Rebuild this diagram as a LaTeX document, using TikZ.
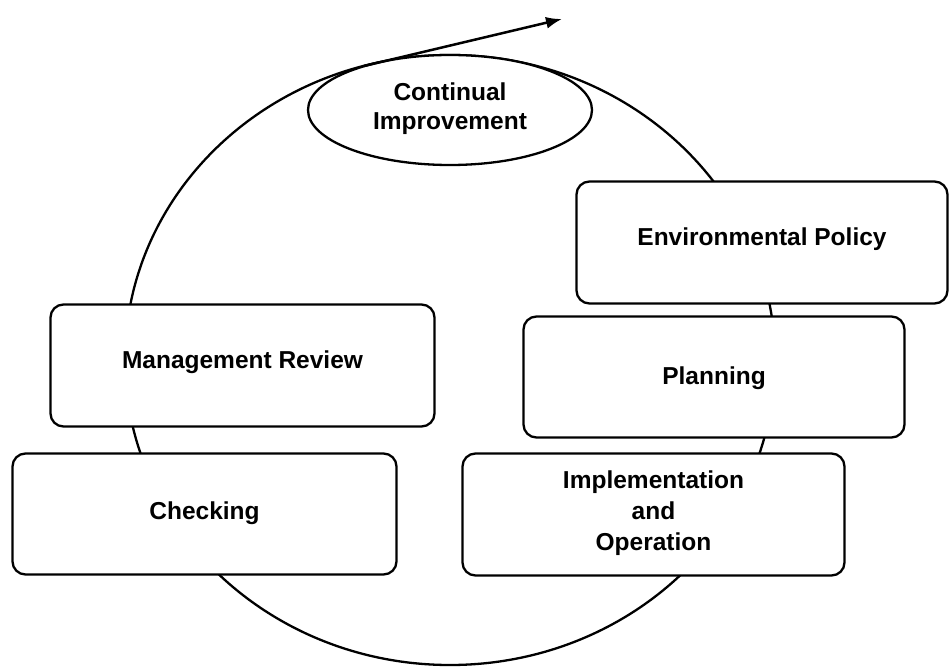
\documentclass[tikz,border=0pt]{standalone}
\usepackage{fontspec}
\setmainfont{Liberation Sans}
\usetikzlibrary{shapes.geometric,arrows.meta}
\begin{document}
\begin{tikzpicture}[x=1pt,y=-1pt,
  stagebox/.style={draw=black,line width=2.3pt,fill=white,rounded corners=13pt,
    inner sep=0pt,align=center},
  loopline/.style={draw=black,line width=2.3pt},
  lbl/.style={font=\fontsize{24.5}{29}\selectfont\bfseries,align=center}]
\useasboundingbox (0,0) rectangle (949,668);
% outer cycle
\node[loopline,ellipse,inner sep=0pt,minimum width=650pt,minimum height=610pt] (cycle) at (450,360) {};
% continual improvement ellipse
\node[loopline,ellipse,fill=white,inner sep=0pt,minimum width=284pt,minimum height=110pt] (ci) at (450,110) {};
\node[lbl] (citext) at (450,109) {Continual\\Improvement};
% arrow leaving the cycle
\coordinate (tan) at (364,66);
\coordinate (tip) at (562,19);
\draw[line width=2.5pt,-{Latex[length=16pt,width=12pt]}] (tan) -- (tip);
% stage boxes
\node[stagebox,minimum width=371pt,minimum height=122pt] (env) at (762,242.5) {};
\node[lbl] (envtext) at (762,239) {Environmental Policy};
\node[stagebox,minimum width=381pt,minimum height=121pt] (plan) at (714,377) {};
\node[lbl] (plantext) at (714,378) {Planning};
\node[stagebox,minimum width=382pt,minimum height=122pt] (impl) at (653.5,514.5) {};
\node[lbl,font=\fontsize{24.5}{31}\selectfont\bfseries] (impltext) at (653.5,513) {Implementation\\and\\Operation};
\node[stagebox,minimum width=384pt,minimum height=122pt] (mr) at (242.5,365.5) {};
\node[lbl] (mrtext) at (242.5,362) {Management Review};
\node[stagebox,minimum width=384pt,minimum height=121pt] (chk) at (204.5,514) {};
\node[lbl] (chktext) at (204.5,513) {Checking};
\end{tikzpicture}
\end{document}
